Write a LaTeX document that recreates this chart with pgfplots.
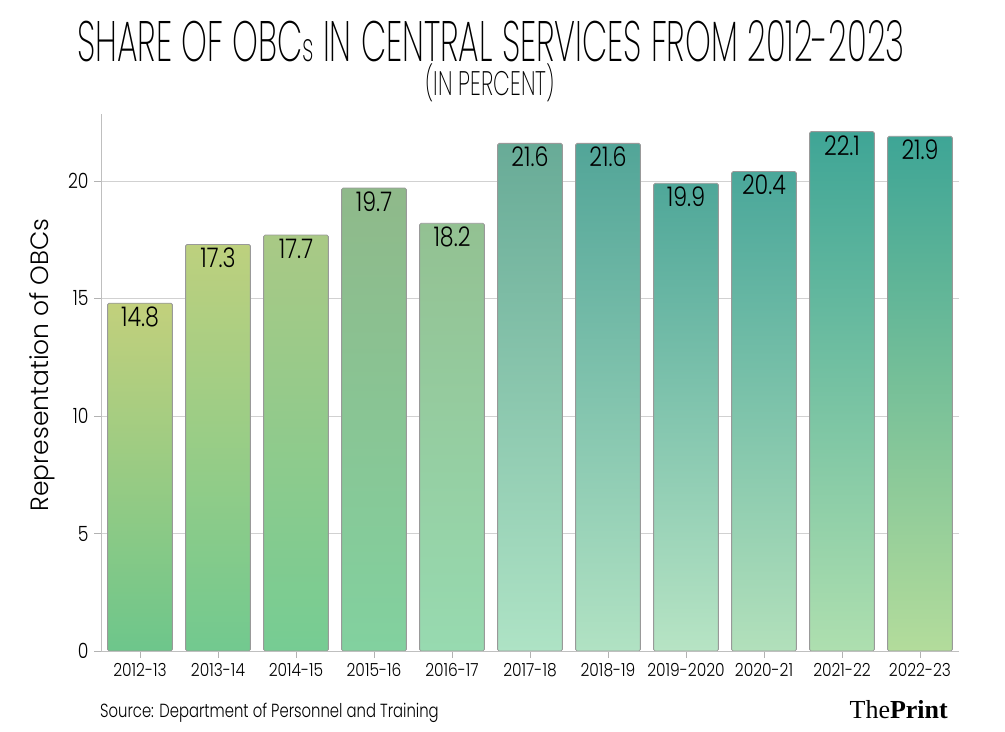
\documentclass[border=0pt]{standalone}
\usepackage{fontspec}
\setmainfont{Poppins}[UprightFont=* Light]
\newfontfamily\titlefont{Poppins}[UprightFont=* ExtraLight, FakeStretch=0.575]
\newfontfamily\subfont{Poppins}[UprightFont=* ExtraLight, FakeStretch=0.64]
\newfontfamily\labfont{Poppins}[UprightFont=* Light, FakeStretch=0.82]
\newfontfamily\tickfont{Poppins}[UprightFont=* Light, FakeStretch=0.86]
\newfontfamily\srcfont{Poppins}[UprightFont=* Light, FakeStretch=0.78]
\newfontfamily\printfont{Liberation Serif}
\usepackage{pgfplots}
\pgfplotsset{compat=1.18}

% top / bottom colours of each bar
\definecolor{t0}{HTML}{C2D07C}\definecolor{b0}{HTML}{6DC68B}
\definecolor{t1}{HTML}{BDD07E}\definecolor{b1}{HTML}{72C98F}
\definecolor{t2}{HTML}{A9C985}\definecolor{b2}{HTML}{76CC93}
\definecolor{t3}{HTML}{8FB98A}\definecolor{b3}{HTML}{82D19F}
\definecolor{t4}{HTML}{93C192}\definecolor{b4}{HTML}{97DAB0}
\definecolor{t5}{HTML}{68AB97}\definecolor{b5}{HTML}{AEE3C5}
\definecolor{t6}{HTML}{52A598}\definecolor{b6}{HTML}{B1E2C3}
\definecolor{t7}{HTML}{4FA799}\definecolor{b7}{HTML}{B7E4C4}
\definecolor{t8}{HTML}{4AA79A}\definecolor{b8}{HTML}{B2E0BB}
\definecolor{t9}{HTML}{3FA596}\definecolor{b9}{HTML}{AEDFAF}
\definecolor{t10}{HTML}{3EA596}\definecolor{b10}{HTML}{B3DC9B}

\newcommand\obcbar[2]{\addplot[top color=t#1, bottom color=b#1] coordinates {(#1,#2)};}

\begin{document}
\begin{tikzpicture}
\path[use as bounding box] (0,0) rectangle (1005bp,732bp);
\begin{axis}[
    at={(101bp,81bp)}, anchor=south west,
    scale only axis, width=858bp, height=537bp,
    xmin=-0.5, xmax=10.5, ymin=0, ymax=22.85,
    axis x line*=bottom, axis y line*=left,
    axis line style={black!25},
    ymajorgrids, grid style={black!18},
    tick style={black!30}, tick align=outside,
    major tick length=7bp,
    xtick={0,...,10},
    xticklabels={2012-13,2013-14,2014-15,2015-16,2016-17,2017-18,2018-19,2019-2020,2020-21,2021-22,2022-23},
    ytick={0,5,10,15,20},
    /pgf/number format/assume math mode=true,
    tick label style={font=\tickfont\fontsize{18bp}{18bp}\selectfont},
    yticklabel style={font=\labfont\fontsize{21bp}{21bp}\selectfont, xshift=-2bp},
    xticklabel style={yshift=-2bp},
    every axis plot/.append style={ybar, bar width=0.83, bar shift=0pt,
        draw=black!40, line width=0.8bp, rounded corners=1.5bp,
        nodes near coords={\pgfmathprintnumber[fixed,precision=1,fixed zerofill]{\pgfplotspointmeta}},
        nodes near coords align={below}},
    every node near coord/.append style={font=\labfont\fontsize{27bp}{27bp}\selectfont, black, yshift=0bp},
]
\obcbar{0}{14.8}
\obcbar{1}{17.3}
\obcbar{2}{17.7}
\obcbar{3}{19.7}
\obcbar{4}{18.2}
\obcbar{5}{21.6}
\obcbar{6}{21.6}
\obcbar{7}{19.9}
\obcbar{8}{20.4}
\obcbar{9}{22.1}
\obcbar{10}{21.9}
\end{axis}
\node[anchor=base, inner sep=0pt, font=\titlefont\fontsize{57bp}{57bp}\selectfont] at (491bp,670bp) {SHARE OF OBC{\fontsize{40bp}{40bp}\selectfont s} IN CENTRAL SERVICES FROM 2012-2023};
\node[anchor=base, inner sep=0pt, font=\subfont\fontsize{34bp}{34bp}\selectfont] at (490bp,636bp) {(IN PERCENT)};
\node[rotate=90, font=\fontsize{25bp}{25bp}\selectfont] at (42bp,367bp) {Representation of OBCs};
\node[anchor=base west, inner sep=0pt, font=\srcfont\fontsize{19bp}{19bp}\selectfont] at (100bp,15bp) {Source: Department of Personnel and Training};
\node[anchor=base east, inner sep=0pt, font=\printfont\fontsize{26bp}{26bp}\selectfont] at (948bp,14bp) {The\textbf{Print}};
\end{tikzpicture}
\end{document}
